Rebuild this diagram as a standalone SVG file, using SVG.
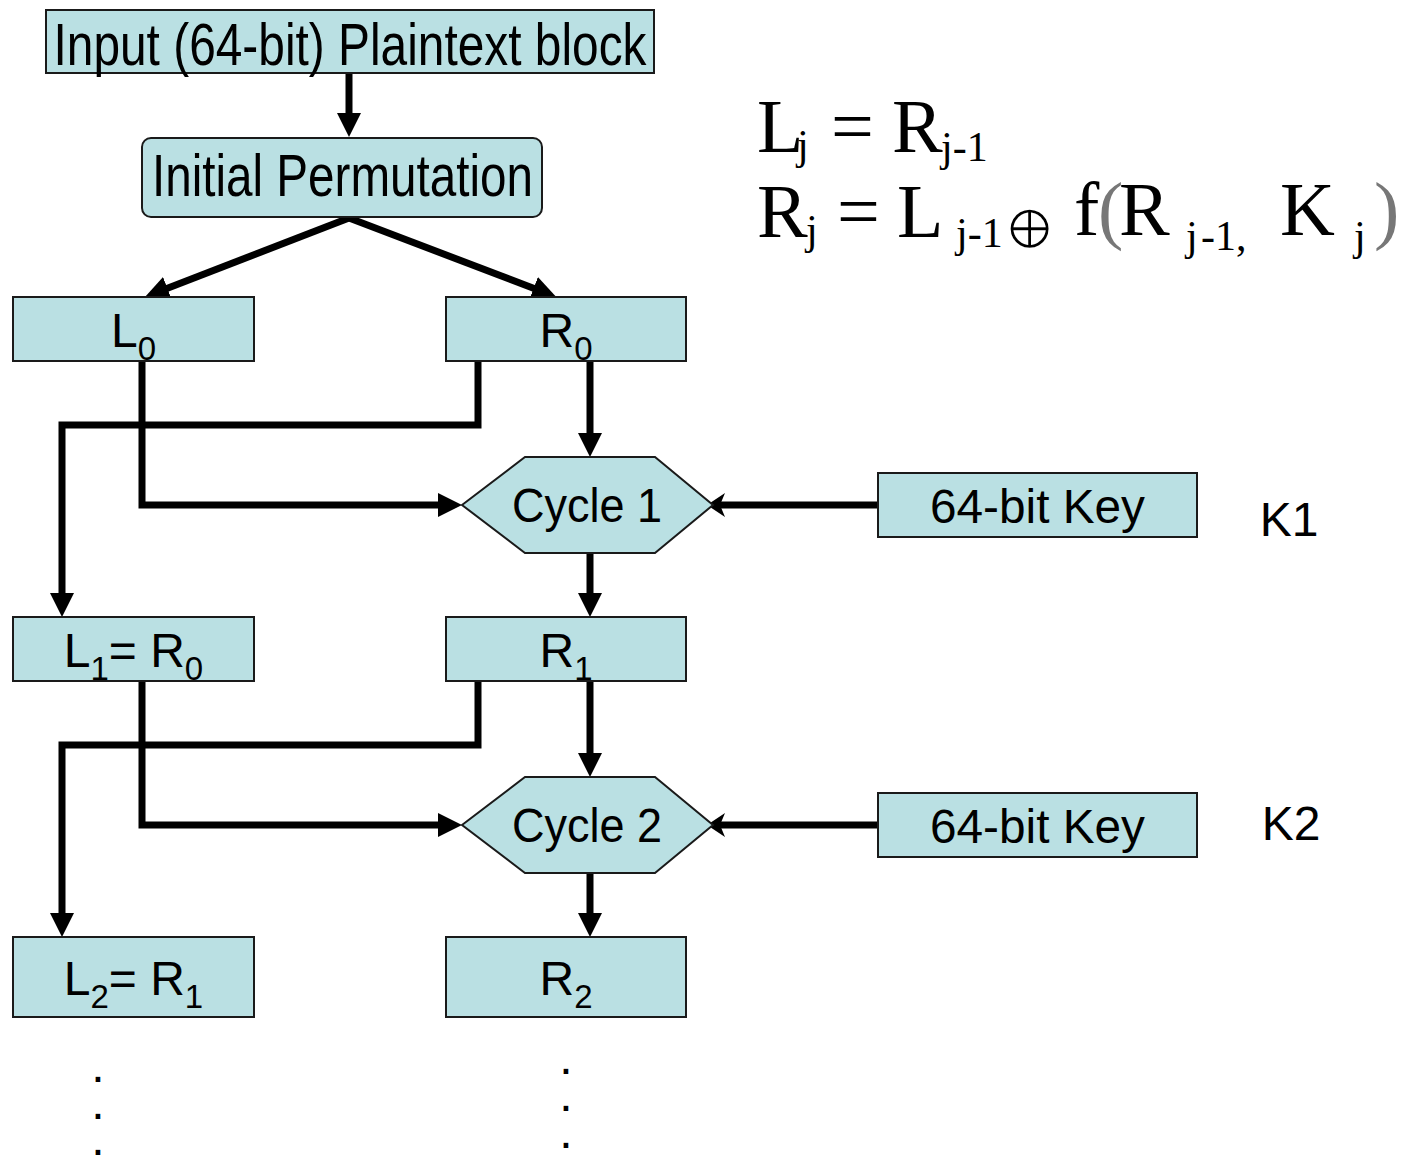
<svg xmlns="http://www.w3.org/2000/svg" width="1409" height="1158" viewBox="0 0 1409 1158">
  <style>
    .box { fill: #BAE0E3; stroke: #1a1a1a; stroke-width: 2; }
    .lbl { font-family: "Liberation Sans", Arial, sans-serif; font-size: 48px; fill: #000; text-anchor: middle; }
    .big { font-size: 59px; }
    .sub { font-size: 33px; }
    .wire { fill: none; stroke: #000; stroke-width: 7; stroke-linejoin: miter; marker-end: url(#head); }
    .keywire { fill: none; stroke: #000; stroke-width: 7; marker-end: url(#barb); }
    .eq { font-family: "Liberation Serif", "Times New Roman", serif; font-size: 76px; fill: #000; }
    .eqs { font-size: 42px; }
    .paren { fill: #777; }
    .dot { font-family: "Liberation Sans", Arial, sans-serif; font-size: 48px; fill: #000; text-anchor: middle; }
  </style>
  <defs>
    <marker id="head" markerUnits="userSpaceOnUse" viewBox="0 0 24 24" refX="2" refY="12" markerWidth="24" markerHeight="24" orient="auto">
      <path d="M0,0 L24,12 L0,24 z" fill="#000"/>
    </marker>
    <marker id="barb" markerUnits="userSpaceOnUse" viewBox="0 0 18 24" refX="5" refY="12" markerWidth="18" markerHeight="24" orient="auto">
      <path d="M0,0 L18,12 L0,24 L5,12 z" fill="#000"/>
    </marker>
  </defs>

  <rect width="1409" height="1158" fill="#fff"/>

  <!-- connectors -->
  <g id="connectors">
    <path class="wire" d="M349,73 V115"/>
    <path class="wire" d="M349,218 L165.5,289"/>
    <path class="wire" d="M349,218 L535.5,289"/>
    <!-- round 1 -->
    <path class="wire" d="M142,361 V505 H440"/>
    <path class="wire" d="M478,361 V425 H62 V595"/>
    <path class="wire" d="M590,361 V435"/>
    <path class="keywire" d="M878,505 H720"/>
    <path class="wire" d="M590,553 V595"/>
    <!-- round 2 -->
    <path class="wire" d="M142,681 V825 H440"/>
    <path class="wire" d="M478,681 V745 H62 V915"/>
    <path class="wire" d="M590,681 V755"/>
    <path class="keywire" d="M878,825 H720"/>
    <path class="wire" d="M590,873 V915"/>
  </g>

  <g id="input">
    <rect class="box" x="46" y="10" width="608" height="63"/>
    <text class="lbl big" x="350" y="65" textLength="593" lengthAdjust="spacingAndGlyphs">Input (64-bit) Plaintext block</text>
  </g>

  <g id="initial-permutation">
    <rect class="box" x="142" y="138" width="400" height="79" rx="9"/>
    <text class="lbl big" x="342.5" y="196" textLength="381" lengthAdjust="spacingAndGlyphs">Initial Permutation</text>
  </g>

  <g id="L0">
    <rect class="box" x="13" y="297" width="241" height="64"/>
    <text class="lbl" x="133.5" y="347">L<tspan class="sub" dy="13">0</tspan></text>
  </g>
  <g id="R0">
    <rect class="box" x="446" y="297" width="240" height="64"/>
    <text class="lbl" x="566" y="347">R<tspan class="sub" dy="13">0</tspan></text>
  </g>

  <g id="cycle1">
    <polygon class="box" points="462,505 525,457 655,457 713,505 655,553 525,553"/>
    <text class="lbl" x="587" y="522" textLength="150" lengthAdjust="spacingAndGlyphs">Cycle 1</text>
  </g>
  <g id="key1">
    <rect class="box" x="878" y="473" width="319" height="64"/>
    <text class="lbl" x="1037.5" y="523" textLength="215" lengthAdjust="spacingAndGlyphs">64-bit Key</text>
  </g>
  <g id="k1-label">
    <text class="lbl" x="1289" y="536">K1</text>
  </g>

  <g id="L1">
    <rect class="box" x="13" y="617" width="241" height="64"/>
    <text class="lbl" x="133.5" y="667">L<tspan class="sub" dy="13">1</tspan><tspan dy="-13">= R</tspan><tspan class="sub" dy="13">0</tspan></text>
  </g>
  <g id="R1">
    <rect class="box" x="446" y="617" width="240" height="64"/>
    <text class="lbl" x="566" y="667">R<tspan class="sub" dy="13">1</tspan></text>
  </g>

  <g id="cycle2">
    <polygon class="box" points="462,825 525,777 655,777 713,825 655,873 525,873"/>
    <text class="lbl" x="587" y="842" textLength="150" lengthAdjust="spacingAndGlyphs">Cycle 2</text>
  </g>
  <g id="key2">
    <rect class="box" x="878" y="793" width="319" height="64"/>
    <text class="lbl" x="1037.5" y="843" textLength="215" lengthAdjust="spacingAndGlyphs">64-bit Key</text>
  </g>
  <g id="k2-label">
    <text class="lbl" x="1291" y="840">K2</text>
  </g>

  <g id="L2">
    <rect class="box" x="13" y="937" width="241" height="80"/>
    <text class="lbl" x="133.5" y="995">L<tspan class="sub" dy="13">2</tspan><tspan dy="-13">= R</tspan><tspan class="sub" dy="13">1</tspan></text>
  </g>
  <g id="R2">
    <rect class="box" x="446" y="937" width="240" height="80"/>
    <text class="lbl" x="566" y="995">R<tspan class="sub" dy="13">2</tspan></text>
  </g>

  <!-- continuation dots -->
  <g id="dots-left">
    <text class="dot" x="98" y="1082">.</text>
    <text class="dot" x="98" y="1119">.</text>
    <text class="dot" x="98" y="1155">.</text>
  </g>
  <g id="dots-right">
    <text class="dot" x="566" y="1074">.</text>
    <text class="dot" x="566" y="1111">.</text>
    <text class="dot" x="566" y="1148">.</text>
  </g>

  <!-- round function -->
  <g id="formula">
    <text class="eq" x="757" y="152">L<tspan class="eqs" x="797" y="159">j</tspan><tspan x="831" y="152">=</tspan><tspan x="892" y="152">R</tspan><tspan class="eqs" x="941" y="161">j-1</tspan></text>
    <text class="eq" x="757" y="237">R<tspan class="eqs" x="806" y="244">j</tspan><tspan x="837" y="237">=</tspan><tspan x="897" y="237">L</tspan><tspan class="eqs" x="956" y="247">j-1</tspan><tspan x="1074" y="235">f</tspan><tspan class="paren" x="1098" y="235">(</tspan><tspan x="1119" y="235">R</tspan><tspan class="eqs" x="1186" y="250">j</tspan><tspan class="eqs" x="1201" y="250">-1,</tspan><tspan x="1280" y="235">K</tspan><tspan class="eqs" x="1354" y="250">j</tspan><tspan class="paren" x="1374" y="235">)</tspan></text>
    <!-- thin outline: white stroke painted over the glyph edge -->
    <text x="1003" y="249" font-family="'DejaVu Serif', 'DejaVu Sans', serif" font-size="64" fill="#000" stroke="#fff" stroke-width="2.2">⊕</text>
  </g>
</svg>
